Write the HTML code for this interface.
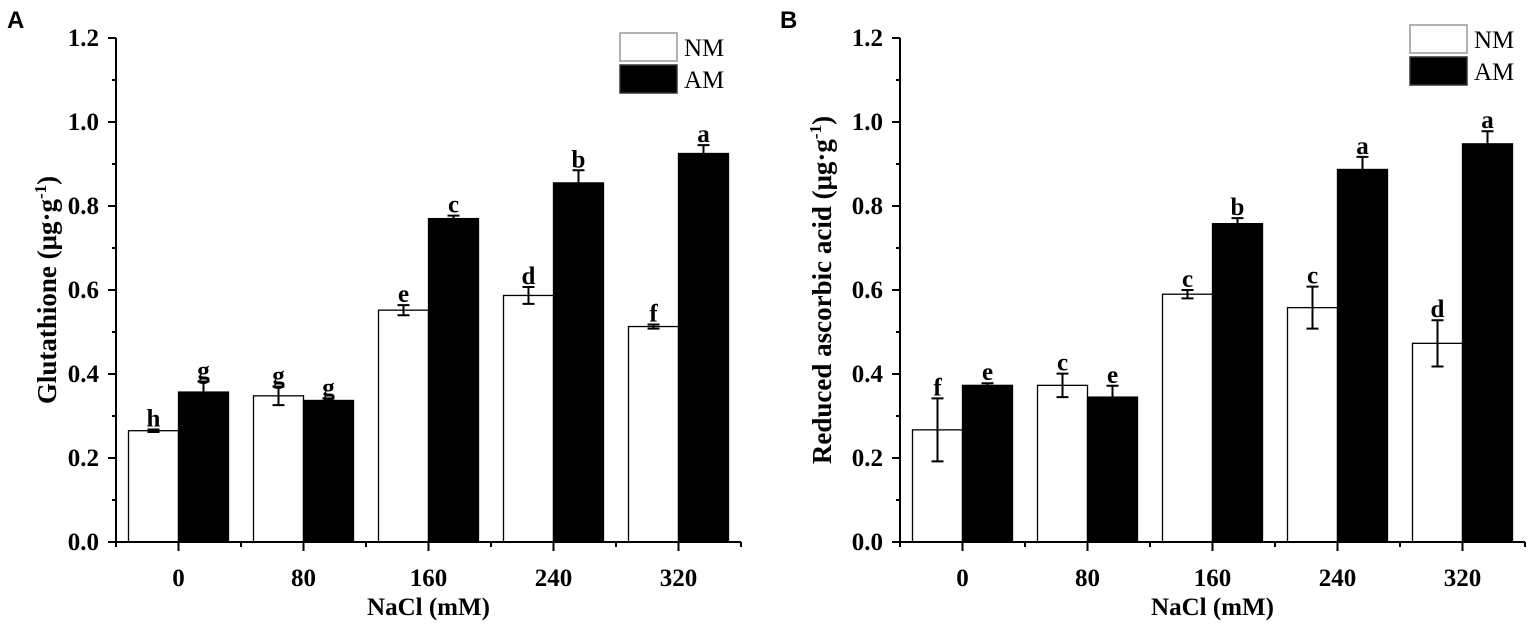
<!DOCTYPE html>
<html><head><meta charset="utf-8">
<style>
html,body{margin:0;padding:0;background:#fff;}
svg{display:block;}
text{font-family:"Liberation Serif",serif;font-weight:bold;fill:#000;}
</style></head>
<body>
<svg id="fig" width="1535" height="634" viewBox="0 0 1535 634" xmlns="http://www.w3.org/2000/svg"></svg>
<script>
const categories = ["0","80","160","240","320"];
const yTicks = [0,0.2,0.4,0.6,0.8,1.0,1.2];
const yTickLabels = ["0.0","0.2","0.4","0.6","0.8","1.0","1.2"];
const seriesNames = ["NM","AM"];
const gshNM = [0.265,0.348,0.552,0.587,0.513];
const gshNMerr = [0.003,0.022,0.012,0.020,0.005];
const gshAM = [0.357,0.337,0.770,0.855,0.925];
const gshAMerr = [0.025,0.005,0.007,0.030,0.020];
const gshNMletters = ["h","g","e","d","f"];
const gshAMletters = ["g","g","c","b","a"];
const asaNM = [0.267,0.373,0.590,0.558,0.473];
const asaNMerr = [0.075,0.028,0.010,0.050,0.055];
const asaAM = [0.373,0.345,0.758,0.887,0.948];
const asaAMerr = [0.005,0.027,0.013,0.030,0.030];
const asaNMletters = ["f","c","c","c","d"];
const asaAMletters = ["e","e","b","a","a"];

const svg = document.getElementById('fig');
const NS = 'http://www.w3.org/2000/svg';
function mk(tag, attrs, parent){
  const e = document.createElementNS(NS, tag);
  for (const k in attrs) e.setAttribute(k, attrs[k]);
  (parent||svg).appendChild(e);
  return e;
}

function panel(cfg){
  const g = mk('g', {});
  
  
  const x0 = cfg.axisX, y0 = 542, step = 125, bw = 50, ppu = 420;
  const yS = v => y0 - v * ppu;
  const cx = i => x0 + step/2 + i*step;
  const xEnd = x0 + step*categories.length;

  const pl = mk('text', {x: cfg.letterX, y: 28, 'font-size': 24, style: 'font-family:"Liberation Sans",sans-serif;font-weight:bold'}, g);
  pl.textContent = cfg.letter;
  
  

  const series = [
    {vals: cfg.nm, errs: cfg.nmErr, letters: cfg.nmL, fill: '#fff', off: -bw, name: 'nm'},
    {vals: cfg.am, errs: cfg.amErr, letters: cfg.amL, fill: '#000', off: 0, name: 'am'}
  ];
  series.forEach(s => {
    s.vals.forEach((v, i) => {
      const bx = cx(i) + s.off;
      const r = mk('rect', {x: bx, y: yS(v), width: bw, height: y0 - yS(v), fill: s.fill, stroke: '#000', 'stroke-width': 1.3}, g);
      
      
      const mx = bx + bw/2, top = yS(v + s.errs[i]), bot = yS(v - s.errs[i]);
      const eb = mk('path', {d: `M${mx},${top}V${bot}M${mx-6},${top}H${mx+6}M${mx-6},${bot}H${mx+6}`, stroke: '#000', 'stroke-width': 2, fill: 'none'}, g);
      if (s.name === 'am') eb.setAttribute('d', `M${mx},${top}V${yS(v)}M${mx-6},${top}H${mx+6}`);
      
      
      const lt = mk('text', {x: mx, y: top - 3, 'font-size': 25, 'text-anchor': 'middle'}, g);
      lt.textContent = s.letters[i];
      
      
    });
  });

  const ax = mk('path', {d: `M${x0},${yS(1.2)}V${y0}H${xEnd}`, stroke: '#000', 'stroke-width': 2, fill: 'none'}, g);
  
  
  let tk = '';
  yTicks.forEach(t => { tk += `M${x0-8},${yS(t)}H${x0}`; });
  for (let i = 0; i < yTicks.length-1; i++) tk += `M${x0-4},${yS(yTicks[i]+0.1)}H${x0}`;
  categories.forEach((c, i) => { tk += `M${cx(i)},${y0}V${y0+9}`; });
  for (let i = 0; i <= categories.length; i++) tk += `M${x0+i*step},${y0}V${y0+5}`;
  const tks = mk('path', {d: tk, stroke: '#000', 'stroke-width': 2}, g);
  
  

  yTicks.forEach((t, i) => {
    const l = mk('text', {x: x0 - 17, y: yS(t) + 8, 'font-size': 25, 'text-anchor': 'end'}, g);
    l.textContent = yTickLabels[i];
    
    
  });
  categories.forEach((c, i) => {
    const l = mk('text', {x: cx(i), y: 586, 'font-size': 25, 'text-anchor': 'middle'}, g);
    l.textContent = c;
    
    
  });
  const xt = mk('text', {x: (x0 + xEnd)/2, y: 615, 'font-size': 25, 'text-anchor': 'middle'}, g);
  xt.textContent = 'NaCl (mM)';
  
  

  const yt = mk('text', {x: 0, y: 0, 'font-size': 27, 'text-anchor': 'middle', transform: `translate(${cfg.yTitleX},${yS(0.6)}) rotate(-90)`}, g);
  yt.appendChild(document.createTextNode(cfg.yTitle + ' (μg·g'));
  const sup = mk('tspan', {dy: -10, 'font-size': 17}, yt);
  sup.textContent = '-1';
  const cl = mk('tspan', {dy: 10}, yt);
  cl.textContent = ')';
  
  

  const lg = mk('g', {}, g);
  
  
  [['#fff', 0], ['#000', 1]].forEach(([f, k]) => {
    const ly = cfg.legY + k*32;
    const r = mk('rect', {x: cfg.legX, y: ly, width: 57, height: 28, fill: f, stroke: k ? '#333' : '#999', 'stroke-width': 1.5}, lg);
    
    
    const t = mk('text', {x: cfg.legX + 64, y: ly + 23, 'font-size': 25, style: 'font-weight:normal'}, lg);
    t.textContent = seriesNames[k];
    
    
  });
}

panel({id:'glutathione', letter:'A', letterX:7, axisX:116, yTitleX:56, yTitle:'Glutathione', nm:gshNM, nmErr:gshNMerr, am:gshAM, amErr:gshAMerr, nmL:gshNMletters, amL:gshAMletters, legX:620, legY:33});
panel({id:'ascorbic-acid', letter:'B', letterX:780, axisX:900, yTitleX:831, yTitle:'Reduced ascorbic acid', nm:asaNM, nmErr:asaNMerr, am:asaAM, amErr:asaAMerr, nmL:asaNMletters, amL:asaAMletters, legX:1410, legY:25});
</script>
</body></html>
